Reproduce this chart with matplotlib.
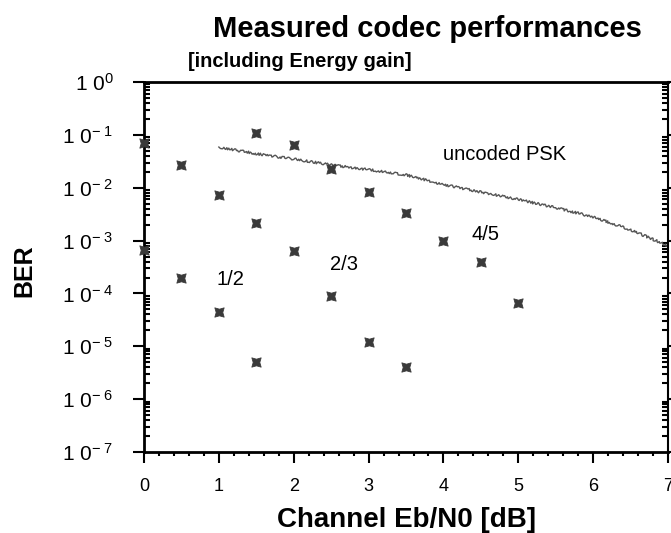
import matplotlib
matplotlib.use("Agg")
import matplotlib.pyplot as plt
from matplotlib.ticker import MultipleLocator, LogLocator, NullFormatter

plt.rcParams['font.family'] = ['Liberation Sans', 'DejaVu Sans']
plt.rcParams['mathtext.fontset'] = 'custom'
plt.rcParams['mathtext.rm'] = 'Liberation Sans'
plt.rcParams['mathtext.it'] = 'Liberation Sans'

# Measured codec points (Eb/N0 dB, BER)
rate12_x = [0.0, 0.5, 1.0, 1.5, 0.0, 0.5, 1.0, 1.5]
rate12_y = [7e-2, 2.7e-2, 7.3e-3, 2.2e-3, 6.6e-4, 2.0e-4, 4.5e-5, 5.1e-6]
rate23_x = [1.5, 2.0, 2.5, 3.0, 2.0, 2.5, 3.0, 3.5]
rate23_y = [1.1e-1, 6.4e-2, 2.3e-2, 8.3e-3, 6.3e-4, 9.0e-5, 1.2e-5, 4.1e-6]
rate45_x = [3.5, 4.0, 4.5, 5.0]
rate45_y = [3.3e-3, 1.0e-3, 4.0e-4, 6.6e-5]

# Uncoded PSK reference curve
psk_x = [1.0, 1.5, 2.0, 2.5, 3.0, 3.5, 4.0, 4.5, 5.0, 5.5, 6.0, 6.5, 7.0]
psk_y = [5.9e-2, 4.4e-2, 3.5e-2, 2.7e-2, 2.2e-2, 1.75e-2, 1.15e-2, 8.3e-3, 6.0e-3, 4.2e-3, 2.8e-3, 1.6e-3, 8.0e-4]

ytick_vals = [1e0, 1e-1, 1e-2, 1e-3, 1e-4, 1e-5, 1e-6, 1e-7]
ytick_labels = [r'$1\ 0^{0}$', r'$1\ 0^{-\ 1}$', r'$1\ 0^{-\ 2}$', r'$1\ 0^{-\ 3}$',
                r'$1\ 0^{-\ 4}$', r'$1\ 0^{-\ 5}$', r'$1\ 0^{-\ 6}$', r'$1\ 0^{-\ 7}$']
xtick_vals = [0, 1, 2, 3, 4, 5, 6, 7]

fig = plt.figure(figsize=(6.71, 5.33), dpi=100)
ax = fig.add_axes([0.2146, 0.152, 0.781, 0.694])

line, = ax.plot(psk_x, psk_y, color='#555555', lw=1.0)
line.set_sketch_params(scale=1.2, length=2.5, randomness=4)

mk = dict(marker=(4, 1, 45), s=90, color='#3a3a3a', linewidths=0.6, zorder=3)
for xs, ys in [(rate12_x, rate12_y), (rate23_x, rate23_y), (rate45_x, rate45_y)]:
    ax.scatter(xs, ys, clip_on=False, **mk)

ax.set_yscale('log')
ax.set_xlim(0, 7)
ax.set_ylim(1e-7, 1e0)

ax.set_yticks(ytick_vals)
ax.set_yticklabels(ytick_labels, fontsize=15)
ax.yaxis.set_minor_locator(LogLocator(base=10, subs=range(2, 10), numticks=20))
ax.yaxis.set_minor_formatter(NullFormatter())
ax.set_xticks(xtick_vals)
ax.set_xticklabels([str(v) for v in xtick_vals], fontsize=13)
ax.xaxis.set_minor_locator(MultipleLocator(0.2))

ax.tick_params(axis='y', which='major', direction='out', length=8, width=1.5, pad=14)
ax.tick_params(axis='y', which='minor', direction='in', length=4, width=1.5)
ax.tick_params(axis='y', which='both', right=True, labelright=False)
ax.tick_params(axis='x', which='major', direction='out', length=8, width=1.5, pad=11)
ax.tick_params(axis='x', which='minor', direction='out', length=3, width=1.5)

for side in ['left', 'bottom', 'top']:
    ax.spines[side].set_linewidth(2)
ax.spines['right'].set_linewidth(1.5)

ax.text(4.0, 4.2e-2, 'uncoded PSK', fontsize=14.5, va='center', ha='left')
ax.text(4.37, 1.3e-3, '4/5', fontsize=14.5, va='center', ha='left')
ax.text(2.48, 3.5e-4, '2/3', fontsize=14.5, va='center', ha='left')
ax.text(0.97, 1.8e-4, '1/2', fontsize=14.5, va='center', ha='left')

ax.set_xlabel('Channel Eb/N0 [dB]', fontsize=20, fontweight='bold')
ax.xaxis.set_label_coords(0.5, -0.148)
ax.set_ylabel('BER', fontsize=18, fontweight='bold')
ax.yaxis.set_label_coords(-0.205, 0.49)

fig.text(0.637, 0.945, 'Measured codec performances', fontsize=21, fontweight='bold',
         ha='center', va='center')
fig.text(0.447, 0.884, '[including Energy gain]', fontsize=14.5, fontweight='bold',
         ha='center', va='center')

fig.savefig('out.png', dpi=100)
